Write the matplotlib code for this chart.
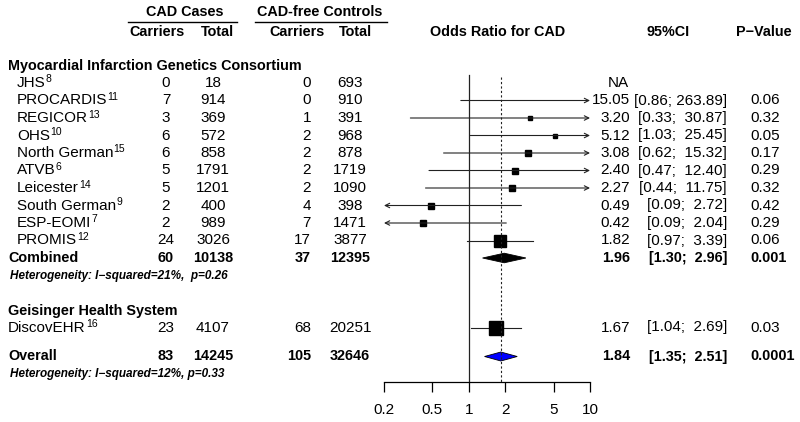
import numpy as np
import matplotlib
matplotlib.use('Agg')
import matplotlib.pyplot as plt
from matplotlib.patches import Polygon

plt.rcParams['font.family'] = ['Liberation Sans', 'DejaVu Sans']

# --- données ---
studies = ['JHS', 'PROCARDIS', 'REGICOR', 'OHS', 'North German', 'ATVB',
           'Leicester', 'South German', 'ESP-EOMI', 'PROMIS']
refs = ['8', '11', '13', '10', '15', '6', '14', '9', '7', '12']
case_carriers = [0, 7, 3, 6, 6, 5, 5, 2, 2, 24]
case_total = [18, 914, 369, 572, 858, 1791, 1201, 400, 989, 3026]
ctrl_carriers = [0, 0, 1, 2, 2, 2, 2, 4, 7, 17]
ctrl_total = [693, 910, 391, 968, 878, 1719, 1090, 398, 1471, 3877]
odds = [np.nan, 15.05, 3.20, 5.12, 3.08, 2.40, 2.27, 0.49, 0.42, 1.82]
ci_low = [np.nan, 0.86, 0.33, 1.03, 0.62, 0.47, 0.44, 0.09, 0.09, 0.97]
ci_high = [np.nan, 263.89, 30.87, 25.45, 15.32, 12.40, 11.75, 2.72, 2.04, 3.39]
pvals = ['', '0.06', '0.32', '0.05', '0.17', '0.29', '0.32', '0.42', '0.29', '0.06']
weights = [0, 0, 1.8, 1.8, 2.8, 2.8, 2.8, 4.0, 5.4, 16.0]

combined = dict(cc=60, ct=10138, kc=37, kt=12395, orr=1.96, lo=1.30, hi=2.96, p='0.001')
het1 = 'Heterogeneity: I\u2212squared=21%,  p=0.26'

geis_study = 'DiscovEHR'
geis_ref = '16'
geis = dict(cc=23, ct=4107, kc=68, kt=20251, orr=1.67, lo=1.04, hi=2.69, p='0.03', w=25.0)

overall = dict(cc=83, ct=14245, kc=105, kt=32646, orr=1.84, lo=1.35, hi=2.51, p='0.0001')
het2 = 'Heterogeneity: I\u2212squared=12%, p=0.33'

xticks = [0.2, 0.5, 1, 2, 5, 10]
xmin, xmax = 0.2, 10


def ci_text(lo, hi):
    if hi >= 100:
        return f'[{lo:.2f}; {hi:.2f}]'
    return f'[{lo:.2f};  {hi:.2f}]'


fig = plt.figure(figsize=(8, 4.22), dpi=100)
renderer = fig.canvas.get_renderer()
tx = fig.add_axes([0, 0, 1, 1])
tx.set_xlim(0, 800)
tx.set_ylim(422, 0)
tx.axis('off')

ax = fig.add_axes([384 / 800, 0, 206 / 800, 1])
ax.patch.set_visible(False)
ax.set_xscale('log')
ax.set_xlim(xmin, xmax)
ax.set_ylim(422, 0)

fs = 11
fsb = 10.4
# en-têtes
tx.text(185, 12, 'CAD Cases', ha='center', va='center', fontsize=fsb, fontweight='bold')
tx.text(320, 12, 'CAD-free Controls', ha='center', va='center', fontsize=fsb, fontweight='bold')
tx.plot([128, 237], [22, 22], color='black', lw=1)
tx.plot([255, 387], [22, 22], color='black', lw=1)
for x, s in [(157, 'Carriers'), (217, 'Total'), (297, 'Carriers'), (355, 'Total'),
             (498, 'Odds Ratio for CAD'), (668, '95%CI'), (764, 'P\u2212Value')]:
    tx.text(x, 32, s, ha='center', va='center', fontsize=fsb, fontweight='bold')

tx.text(8, 66, 'Myocardial Infarction Genetics Consortium', ha='left', va='center',
        fontsize=fsb, fontweight='bold')


def label_with_ref(x, y, name, ref):
    t = tx.text(x, y, name, ha='left', va='center', fontsize=fs)
    bb = t.get_window_extent(renderer=renderer)
    xr = tx.transData.inverted().transform((bb.x1, bb.y0))[0]
    tx.text(xr + 0.2, y - 3.5, ref, ha='left', va='center', fontsize=7.5)


def row(y, name, cc, ct, kc, kt, orr, lo, hi, p, bold=False, xname=17, ref=None):
    fw = 'bold' if bold else 'normal'
    f = fsb if bold else fs
    if ref is None:
        tx.text(xname, y, name, ha='left', va='center', fontsize=f, fontweight=fw)
    else:
        label_with_ref(xname, y, name, ref)
    tx.text(166, y, str(cc), ha='center', va='center', fontsize=f, fontweight=fw)
    tx.text(213, y, str(ct), ha='center', va='center', fontsize=f, fontweight=fw)
    tx.text(311, y, str(kc), ha='right', va='center', fontsize=f, fontweight=fw)
    tx.text(350, y, str(kt), ha='center', va='center', fontsize=f, fontweight=fw)
    if np.isnan(orr):
        tx.text(608, y, 'NA', ha='left', va='center', fontsize=fs)
        return
    tx.text(630, y, f'{orr:.2f}', ha='right', va='center', fontsize=f, fontweight=fw)
    tx.text(727, y, ci_text(lo, hi), ha='right', va='center', fontsize=f, fontweight=fw)
    tx.text(750, y, p, ha='left', va='center', fontsize=f, fontweight=fw)


def ci_line(y, orr, lo, hi, w):
    a, b = max(lo, xmin), min(hi, xmax)
    lc = '#222222'
    if lo < xmin:
        ax.annotate('', xy=(xmin, y), xytext=(b, y),
                    arrowprops=dict(arrowstyle='->', lw=0.8, color=lc, shrinkA=0,
                                    shrinkB=0, mutation_scale=8))
    elif hi > xmax:
        ax.annotate('', xy=(xmax, y), xytext=(a, y),
                    arrowprops=dict(arrowstyle='->', lw=0.8, color=lc, shrinkA=0,
                                    shrinkB=0, mutation_scale=8))
    else:
        ax.plot([a, b], [y, y], color=lc, lw=0.8)
    if xmin <= orr <= xmax and w > 0:
        ax.plot([orr], [y], marker='s', color='black',
                markersize=3 * np.sqrt(w) / 1.389, linestyle='none')


def diamond(y, orr, lo, hi, h, fc):
    ax.add_patch(Polygon([(lo, y), (orr, y - h), (hi, y), (orr, y + h)],
                         closed=True, facecolor=fc, edgecolor='black', lw=0.6))


y0, dy = 83, 17.5
for i in range(len(studies)):
    y = y0 + i * dy
    row(y, studies[i], case_carriers[i], case_total[i], ctrl_carriers[i],
        ctrl_total[i], odds[i], ci_low[i], ci_high[i], pvals[i], ref=refs[i])
    if not np.isnan(odds[i]):
        ci_line(y, odds[i], ci_low[i], ci_high[i], weights[i])

yc = y0 + len(studies) * dy
row(yc, 'Combined', combined['cc'], combined['ct'], combined['kc'], combined['kt'],
    combined['orr'], combined['lo'], combined['hi'], combined['p'], bold=True, xname=8)
diamond(yc, combined['orr'], combined['lo'], combined['hi'], 4.8, 'black')
tx.text(10, 276, het1, ha='left', va='center', fontsize=8.5, fontweight='bold',
        style='italic')

tx.text(8, 311, 'Geisinger Health System', ha='left', va='center', fontsize=fsb,
        fontweight='bold')
row(327.5, geis_study, geis['cc'], geis['ct'], geis['kc'], geis['kt'], geis['orr'],
    geis['lo'], geis['hi'], geis['p'], xname=8, ref=geis_ref)
ci_line(327.5, geis['orr'], geis['lo'], geis['hi'], geis['w'])

row(356.5, 'Overall', overall['cc'], overall['ct'], overall['kc'], overall['kt'],
    overall['orr'], overall['lo'], overall['hi'], overall['p'], bold=True, xname=8)
diamond(356.5, overall['orr'], overall['lo'], overall['hi'], 4.5, '#0000ff')
tx.text(10, 374, het2, ha='left', va='center', fontsize=8.5, fontweight='bold',
        style='italic')

# lignes de référence
ax.plot([1, 1], [75, 382], color='#222222', lw=0.9)
ax.plot([overall['orr']] * 2, [77, 382], color='#222222', lw=0.8,
        linestyle=(0, (2, 2)))

# axe
for s in ['top', 'left', 'right']:
    ax.spines[s].set_visible(False)
ax.spines['bottom'].set_position(('data', 382))
ax.spines['bottom'].set_linewidth(0.9)
ax.set_yticks([])
ax.set_xticks(xticks)
ax.set_xticklabels([f'{t:g}' for t in xticks])
ax.minorticks_off()
ax.tick_params(axis='x', direction='out', length=7, width=0.9, pad=8, labelsize=fs)

fig.savefig('out.png', dpi=100)
